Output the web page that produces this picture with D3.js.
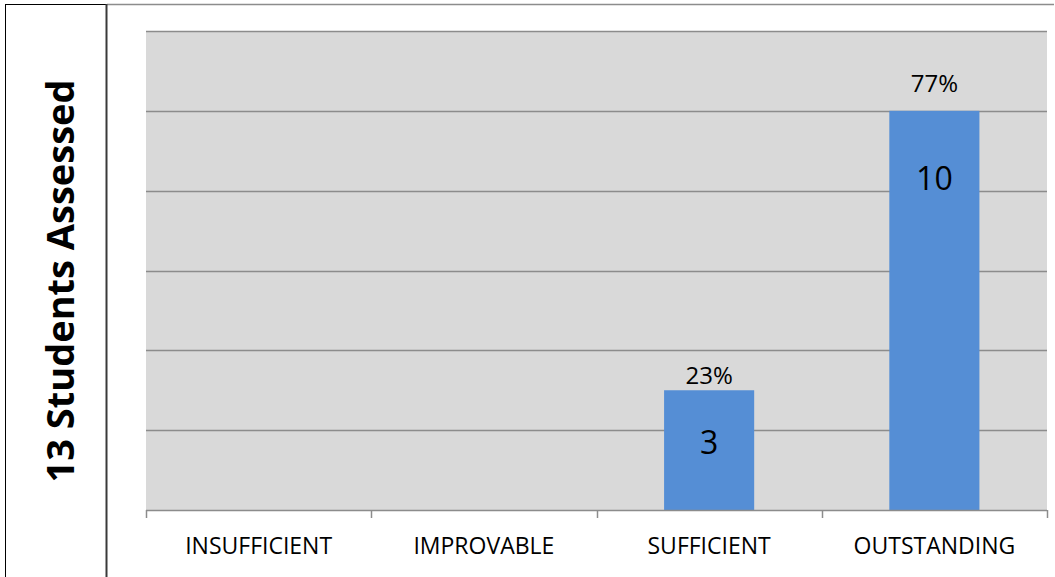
<!DOCTYPE html>
<html>
<head>
<meta charset="utf-8">
<script src="https://cdn.jsdelivr.net/npm/d3@7"></script>
<style>
  html, body { margin: 0; padding: 0; background: #fff; }
  svg { display: block; }
  text { font-family: "Open Sans", "Liberation Sans", sans-serif; }
</style>
</head>
<body>
<svg id="chart" width="1055" height="577"></svg>
<script>
// Assessment results: number of students per rating level
const categories = ["INSUFFICIENT", "IMPROVABLE", "SUFFICIENT", "OUTSTANDING"];
const counts = [0, 0, 3, 10];
const percentLabels = ["", "", "23%", "77%"];
const yTicks = [0, 2, 4, 6, 8, 10, 12];
const sideTitle = "13 Students Assessed";

const svg = d3.select("#chart");
const W = 1055, H = 577;
const plot = { left: 146, right: 1047, top: 31, bottom: 510 };

// Label placement tweaks (gap above bar for percent, depth inside bar for count)
const pctGap = [6, 6, 6, 19];
const countDepth = [64, 64, 64, 79];

// Frame: left title panel and top rule
svg.append("line").attr("x1", 5.5).attr("x2", 5.5).attr("y1", 4).attr("y2", H)
  .attr("stroke", "#000").attr("stroke-width", 1);
svg.append("line").attr("x1", 5).attr("x2", 107).attr("y1", 4.5).attr("y2", 4.5)
  .attr("stroke", "#000").attr("stroke-width", 1);
svg.append("line").attr("x1", 107).attr("x2", 1054).attr("y1", 4.5).attr("y2", 4.5)
  .attr("stroke", "#8c8c8c").attr("stroke-width", 1.5);
svg.append("line").attr("x1", 106.5).attr("x2", 106.5).attr("y1", 4).attr("y2", H)
  .attr("stroke", "#3a3a3a").attr("stroke-width", 2);

svg.append("text")
  .attr("transform", `translate(74,281) rotate(-90)`)
  .attr("text-anchor", "middle")
  .attr("font-size", 38)
  .attr("font-weight", "bold")
  .attr("fill", "#000")
  .text(sideTitle);

const x = d3.scaleBand().domain(categories)
  .range([plot.left, plot.right]).paddingInner(0.6).paddingOuter(0.3);
const xOuter = d3.scaleBand().domain(categories).range([plot.left, plot.right]);
const y = d3.scaleLinear().domain([0, 12]).range([plot.bottom, plot.top]);

// Plot background
svg.append("rect")
  .attr("x", plot.left).attr("y", plot.top)
  .attr("width", plot.right - plot.left).attr("height", plot.bottom - plot.top)
  .attr("fill", "#d9d9d9");

// Horizontal gridlines
svg.append("g").selectAll("line").data(yTicks.filter(t => t > 0)).join("line")
  .attr("x1", plot.left).attr("x2", plot.right)
  .attr("y1", d => Math.round(y(d)) + 0.5).attr("y2", d => Math.round(y(d)) + 0.5)
  .attr("stroke", "#8c8c8c").attr("stroke-width", 1.5);

// Bars
svg.append("g").selectAll("rect").data(categories).join("rect")
  .attr("x", d => x(d))
  .attr("width", x.bandwidth())
  .attr("y", (d, i) => y(counts[i]))
  .attr("height", (d, i) => y(0) - y(counts[i]))
  .attr("fill", "#558ed5");

// X axis with category boundary ticks
const xAxis = svg.append("g").attr("transform", `translate(0,${plot.bottom})`);
xAxis.append("line").attr("x1", plot.left).attr("x2", plot.right)
  .attr("y1", 0.5).attr("y2", 0.5).attr("stroke", "#8c8c8c").attr("stroke-width", 1.5);
const boundaries = categories.map(c => xOuter(c)).concat([plot.right]);
xAxis.selectAll("line.tick").data(boundaries).join("line").attr("class", "tick")
  .attr("x1", d => Math.round(d) + 0.5).attr("x2", d => Math.round(d) + 0.5)
  .attr("y1", 0).attr("y2", 8)
  .attr("stroke", "#8c8c8c").attr("stroke-width", 1.5);
xAxis.selectAll("text").data(categories).join("text")
  .attr("x", d => xOuter(d) + xOuter.bandwidth() / 2)
  .attr("y", 44)
  .attr("text-anchor", "middle")
  .attr("font-size", 23)
  .attr("fill", "#000")
  .text(d => d);

const labelled = categories.map((c, i) => i).filter(i => counts[i] > 0);

// Percent labels above bars
svg.append("g").selectAll("text").data(labelled).join("text")
  .attr("x", i => x(categories[i]) + x.bandwidth() / 2)
  .attr("y", i => y(counts[i]) - pctGap[i])
  .attr("text-anchor", "middle")
  .attr("font-size", 24)
  .attr("fill", "#000")
  .text(i => percentLabels[i]);

// Count labels inside bars
svg.append("g").selectAll("text").data(labelled).join("text")
  .attr("x", i => x(categories[i]) + x.bandwidth() / 2)
  .attr("y", i => y(counts[i]) + countDepth[i])
  .attr("text-anchor", "middle")
  .attr("font-size", 32)
  .attr("fill", "#000")
  .text(i => counts[i]);
</script>
</body>
</html>
